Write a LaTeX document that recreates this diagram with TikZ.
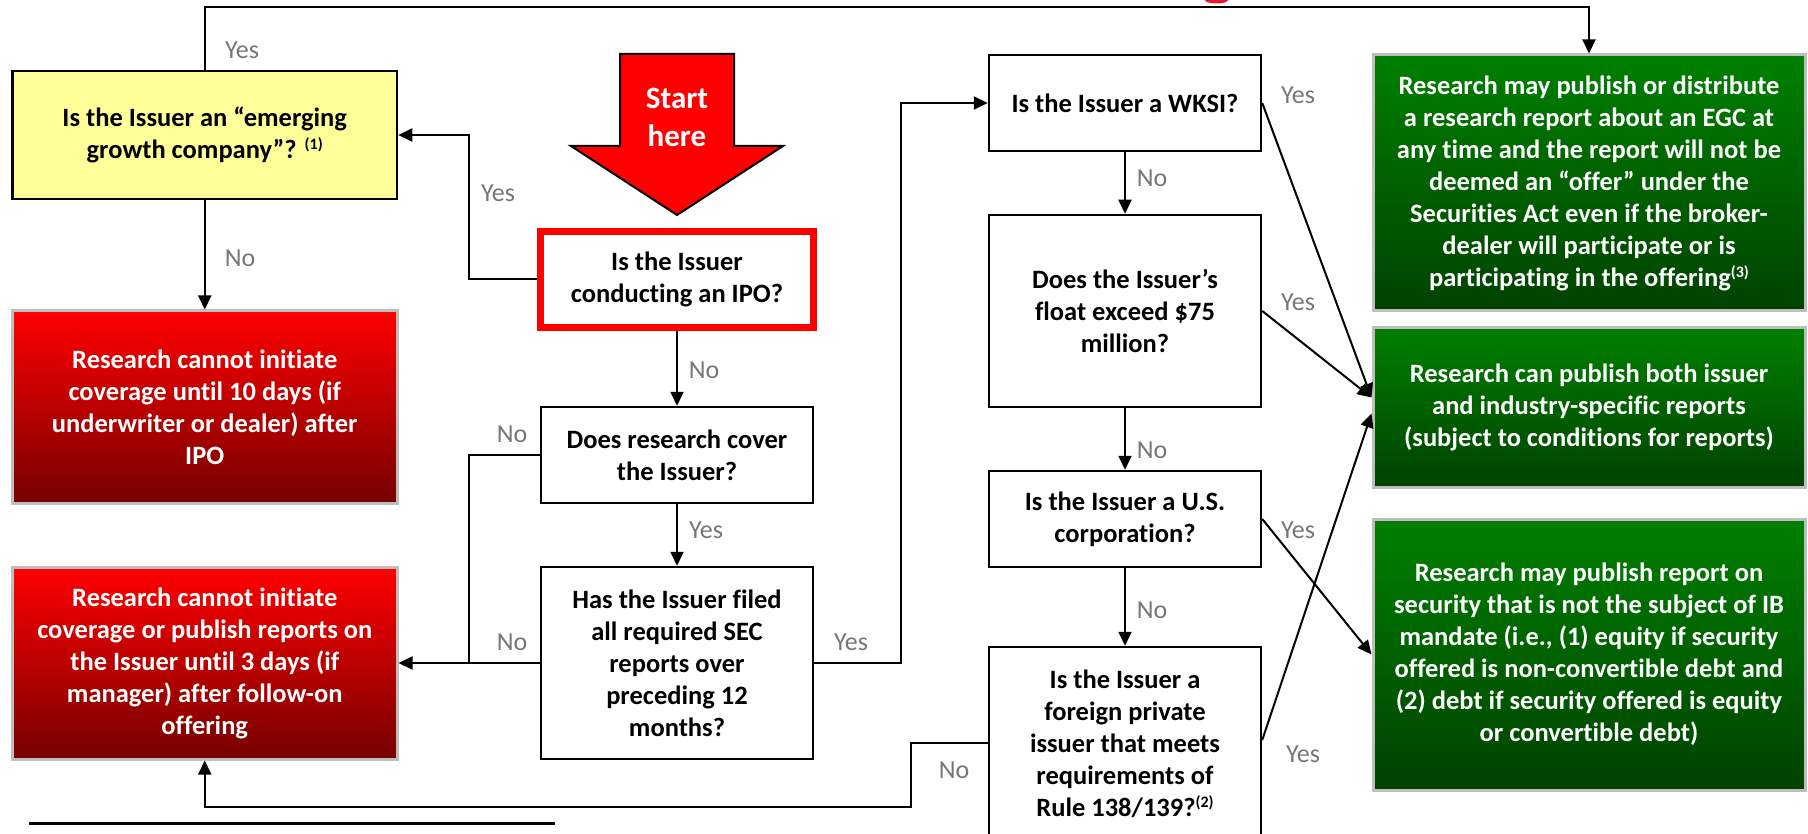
\documentclass[tikz,border=0pt]{standalone}
\usepackage{fontspec}
\setmainfont{Carlito}[Ligatures={NoCommon}]
\usetikzlibrary{arrows.meta}
\definecolor{lblgray}{RGB}{118,118,118}
\definecolor{redtop}{RGB}{255,0,0}
\definecolor{redbot}{RGB}{118,0,0}
\definecolor{grntop}{RGB}{0,128,0}
\definecolor{grnbot}{RGB}{0,66,0}
\definecolor{yelfill}{RGB}{255,255,153}
\definecolor{edgegray}{RGB}{190,190,190}
\definecolor{titlered}{RGB}{225,25,50}
\newcommand\qfont{\fontsize{26.5}{32}\selectfont\bfseries}
\newcommand\lfont{\fontsize{26}{30}\selectfont}
\newcommand\sfont{\fontsize{31}{38}\selectfont\bfseries}
\newcommand\supnote[1]{\raisebox{9pt}{\fontsize{16}{16}\selectfont(#1)}}
\begin{document}
\begin{tikzpicture}[x=1pt,y=-1pt,
  conn/.style={line width=2pt},
  arr/.style={conn,-{Triangle[length=14pt,width=13pt]}},
  qbox/.style={draw=black,line width=2.5pt,fill=white,align=center,font=\qfont,inner sep=2pt},
  egcbox/.style={qbox,fill=yelfill},
  ipobox/.style={qbox,draw=redtop,line width=7pt},
  redbox/.style={draw=edgegray,line width=3pt,top color=redtop,bottom color=redbot,text=white,align=center,font=\qfont,inner sep=2pt},
  grnbox/.style={draw=edgegray,line width=3pt,top color=grntop,bottom color=grnbot,text=white,align=center,font=\qfont,inner sep=2pt},
  lbl/.style={text=lblgray,font=\lfont,inner sep=0pt}]
\useasboundingbox (0,0) rectangle (1808,834);
\clip (0,0) rectangle (1808,834);
% cut-off title glyph
\fill[titlered] (1216.5,0) ellipse (11.5 and 3.5);
% start arrow
\filldraw[fill=redtop,draw=black,line width=2pt] (620,54) -- (734,54) -- (734,146) -- (783,146) -- (677,215) -- (571,146) -- (620,146) -- cycle;
\node[text=white,font=\sfont,align=center,inner sep=0pt] (start) at (677,117.5) {Start\\here};
% boxes
\node[egcbox,minimum width=384.5pt,minimum height=128pt] (egc) at (204.75,135) {Is the Issuer an “emerging\\growth company”? \supnote{1}};
\node[redbox,minimum width=384.5pt,minimum height=192pt] (red1) at (204.75,407) {Research cannot initiate\\coverage until 10 days (if\\underwriter or dealer) after\\IPO};
\node[redbox,minimum width=384.5pt,minimum height=192pt] (red2) at (204.75,663) {Research cannot initiate\\coverage or publish reports on\\the Issuer until 3 days (if\\manager) after follow-on\\offering};
\node[ipobox,minimum width=273pt,minimum height=96pt] (ipo) at (677,279.5) {Is the Issuer\\conducting an IPO?};
\node[qbox,minimum width=272pt,minimum height=96pt] (cover) at (677,455) {Does research cover\\the Issuer?};
\node[qbox,minimum width=272pt,minimum height=192pt] (filed) at (677,663) {Has the Issuer filed\\all required SEC\\reports over\\preceding 12\\months?};
\node[qbox,minimum width=272pt,minimum height=96pt] (wksi) at (1125,103) {Is the Issuer a WKSI?};
\node[qbox,minimum width=272pt,minimum height=192pt] (float) at (1125,311) {Does the Issuer’s\\float exceed \$75\\million?};
\node[qbox,minimum width=272pt,minimum height=96pt] (us) at (1125,519) {Is the Issuer a U.S.\\corporation?};
\node[qbox,minimum width=272pt,minimum height=194pt] (foreign) at (1125,744) {Is the Issuer a\\foreign private\\issuer that meets\\requirements of\\Rule 138/139?\supnote{2}};
\node[grnbox,minimum width=432pt,minimum height=256pt] (green1) at (1589,183) {Research may publish or distribute\\a research report about an EGC at\\any time and the report will not be\\deemed an “offer” under the\\Securities Act even if the broker-\\dealer will participate or is\\participating in the offering\supnote{3}};
\node[grnbox,minimum width=432pt,minimum height=159pt] (green2) at (1589,407.5) {Research can publish both issuer\\and industry-specific reports\\(subject to conditions for reports)};
\node[grnbox,minimum width=432pt,minimum height=271pt] (green3) at (1589,654.5) {Research may publish report on\\security that is not the subject of IB\\mandate (i.e., (1) equity if security\\offered is non-convertible debt and\\(2) debt if security offered is equity\\or convertible debt)};
% helper coordinates
\coordinate (topY) at (0,7);
\coordinate (jA) at (469,0);
\coordinate (jB) at (901,0);
\coordinate (jC) at (911,807);
\coordinate (g2hi) at ([yshift=10pt]green2.west);
\coordinate (g2lo) at ([yshift=-6pt]green2.west);
% connectors
\draw[arr] (egc.north) -- (egc.north |- topY) -| (green1.north);
\draw[arr] (ipo.west) -- (ipo.west -| jA) |- (egc.east);
\draw[arr] (egc.south) -- (red1.north);
\draw[arr] (ipo.south) -- (cover.north);
\draw[conn] (cover.west) -- (cover.west -| jA) -- (jA |- filed.west);
\draw[arr] (filed.west) -- (filed.west -| red2.east);
\draw[arr] (cover.south) -- (filed.north);
\draw[arr] (filed.east) -- (filed.east -| jB) |- (wksi.west);
\draw[arr] (wksi.south) -- (float.north);
\draw[arr] (float.south) -- (us.north);
\draw[arr] (us.south) -- (foreign.north);
\draw[arr] (wksi.east) -- (g2hi);
\draw[arr] (float.east) -- (g2hi);
\draw[arr] (us.east) -- (green3.west);
\draw[arr] ([yshift=4pt]foreign.east) -- (g2lo);
\draw[arr] ([yshift=1pt]foreign.west) -- ([yshift=1pt]foreign.west -| jC) -- (jC) -| (red2.south);
% labels
\node[lbl] (yes1) at (242,50) {Yes};
\node[lbl] (yes2) at (498,193) {Yes};
\node[lbl] (no1) at (240,258) {No};
\node[lbl] (no2) at (704,370) {No};
\node[lbl] (no3) at (512,434) {No};
\node[lbl] (no4) at (512,642) {No};
\node[lbl] (yes3) at (706,530) {Yes};
\node[lbl] (yes4) at (851,642) {Yes};
\node[lbl] (no5) at (1152,178) {No};
\node[lbl] (no6) at (1152,450) {No};
\node[lbl] (no7) at (1152,610) {No};
\node[lbl] (yes5) at (1298,95) {Yes};
\node[lbl] (yes6) at (1298,302) {Yes};
\node[lbl] (yes7) at (1298,530) {Yes};
\node[lbl] (yes8) at (1303,754) {Yes};
\node[lbl] (no8) at (954,770) {No};
% footnote rule
\coordinate (fnA) at (29,823);
\coordinate (fnB) at (555,823);
\draw[line width=3pt] (fnA) -- (fnB);
\end{tikzpicture}
\end{document}
